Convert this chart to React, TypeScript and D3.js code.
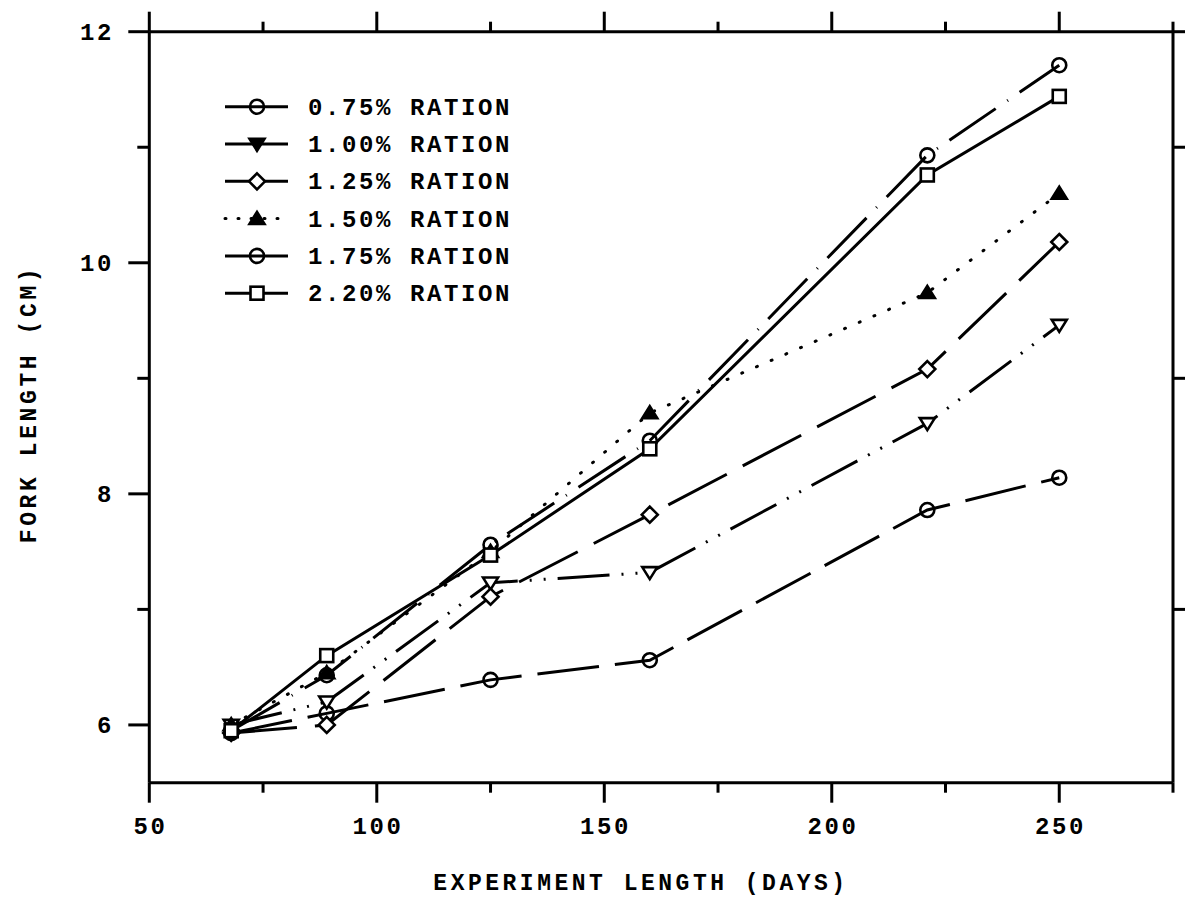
import React from "react";
import * as d3 from "d3";

const days = [68, 89, 125, 160, 221, 250];
const r075 = [5.93, 6.1, 6.39, 6.56, 7.86, 8.14];
const r100 = [6.0, 6.2, 7.23, 7.32, 8.61, 9.46];
const r125 = [5.93, 6.0, 7.11, 7.82, 9.08, 10.18];
const r150 = [6.0, 6.45, 7.5, 8.7, 9.74, 10.6];
const r175 = [5.95, 6.43, 7.56, 8.46, 10.93, 11.71];
const r220 = [5.95, 6.6, 7.47, 8.39, 10.76, 11.44];

const seriesLabels = [
  "0.75% RATION",
  "1.00% RATION",
  "1.25% RATION",
  "1.50% RATION",
  "1.75% RATION",
  "2.20% RATION",
];
const xMajorTicks = [50, 100, 150, 200, 250];
const xMinorTicks = [75, 125, 175, 225, 275];
const yMajorTicks = [6, 8, 10, 12];
const yMinorTicks = [7, 9, 11];

const W = 1186;
const H = 906;
const L = 149.3;
const R = 1173;
const T = 31.7;
const B = 782.7;

const FONT = "'Liberation Mono', 'DejaVu Sans Mono', monospace";

type Marker = "circle" | "triDown" | "diamond" | "triUp" | "square";

const seriesDefs: { values: number[]; dash: string; marker: Marker; filled: boolean }[] = [
  { values: r075, dash: "62,16", marker: "circle", filled: false },
  { values: r100, dash: "52,12,2,12,2,12", marker: "triDown", filled: false },
  { values: r125, dash: "66,18", marker: "diamond", filled: false },
  { values: r150, dash: "1,15", marker: "triUp", filled: true },
  { values: r175, dash: "56,14,1,14", marker: "circle", filled: false },
  { values: r220, dash: "", marker: "square", filled: false },
];

function MarkerShape({ type, x, y, filled }: { type: Marker; x: number; y: number; filled: boolean }) {
  const sw = 2.6;
  const common = { stroke: "#000", strokeWidth: sw };
  if (type === "circle") {
    return <circle cx={x} cy={y} r={7} fill="none" {...common} />;
  }
  if (type === "square") {
    return <rect x={x - 6.5} y={y - 6.5} width={13} height={13} fill="#fff" {...common} />;
  }
  if (type === "diamond") {
    const s = 8;
    return (
      <path d={`M${x},${y - s}L${x + s},${y}L${x},${y + s}L${x - s},${y}Z`} fill="#fff" {...common} />
    );
  }
  if (type === "triDown") {
    const s = 7.5;
    return (
      <path
        d={`M${x - s},${y - s * 0.7}L${x + s},${y - s * 0.7}L${x},${y + s * 0.9}Z`}
        fill={filled ? "#000" : "#fff"}
        {...common}
      />
    );
  }
  const s = 7.5;
  return (
    <path
      d={`M${x - s},${y + s * 0.7}L${x + s},${y + s * 0.7}L${x},${y - s * 0.9}Z`}
      fill={filled ? "#000" : "#fff"}
      {...common}
    />
  );
}

export default function App() {
  const x = d3.scaleLinear().domain([50, 275]).range([L, R]);
  const y = d3.scaleLinear().domain([5.5, 12]).range([B, T]);
  const line = d3
    .line<[number, number]>()
    .x((d) => x(d[0]))
    .y((d) => y(d[1]));

  const textStyle = {
    fontFamily: FONT,
    fontWeight: 700 as const,
    fontSize: 24,
    letterSpacing: 2.6,
    fill: "#000",
  };

  const legendX0 = 225;
  const legendX1 = 288;
  const legendMx = 257;
  const legendY0 = 106.7;
  const legendDy = 37.3;

  return (
    <svg width={W} height={H} style={{ position: "absolute", left: 0, top: 0, background: "#fff" }}>
      <rect x={0} y={0} width={W} height={H} fill="#fff" />
      {/* frame */}
      <g stroke="#000" strokeWidth={3} fill="none">
        <line x1={L} y1={B} x2={R} y2={B} />
        <line x1={L} y1={T} x2={R} y2={T} />
        <line x1={L} y1={T} x2={L} y2={B} />
        <line x1={R} y1={T} x2={R} y2={B} />
        {xMajorTicks.map((t) => (
          <g key={"xm" + t}>
            <line x1={x(t)} x2={x(t)} y1={B} y2={B + 20} />
            <line x1={x(t)} x2={x(t)} y1={T} y2={T - 20} />
          </g>
        ))}
        {xMinorTicks.map((t) => (
          <g key={"xn" + t}>
            <line x1={x(t)} x2={x(t)} y1={B} y2={B + 10} />
            <line x1={x(t)} x2={x(t)} y1={T} y2={T - 10} />
          </g>
        ))}
        {yMajorTicks.map((t) => (
          <line key={"ym" + t} x1={L} x2={L - 21} y1={y(t)} y2={y(t)} />
        ))}
        {yMinorTicks.map((t) => (
          <g key={"yn" + t}>
            <line x1={L} x2={L - 12} y1={y(t)} y2={y(t)} />
            <line x1={R} x2={R + 12} y1={y(t)} y2={y(t)} />
          </g>
        ))}
        <line x1={R} x2={R + 12} y1={y(12)} y2={y(12)} />
      </g>

      {/* tick labels */}
      {xMajorTicks.map((t) => (
        <text key={"xl" + t} x={x(t) + 1.3} y={834} textAnchor="middle" {...textStyle}>
          {t}
        </text>
      ))}
      {yMajorTicks.map((t) => (
        <text key={"yl" + t} x={114} y={y(t) + 8} textAnchor="end" {...textStyle}>
          {t}
        </text>
      ))}

      {/* axis titles */}
      <text x={641} y={890} textAnchor="middle" {...textStyle} fontSize={23} letterSpacing={3.5}>
        EXPERIMENT LENGTH (DAYS)
      </text>
      <text
        transform={`translate(36, 404) rotate(-90)`}
        textAnchor="middle"
        {...textStyle}
        fontSize={23}
        letterSpacing={3.6}
      >
        FORK LENGTH (CM)
      </text>

      {/* series */}
      {seriesDefs.map((s, i) => {
        const pts = days.map((d, j) => [d, s.values[j]] as [number, number]);
        return (
          <g key={"s" + i}>
            <path
              d={line(pts) || ""}
              fill="none"
              stroke="#000"
              strokeWidth={3}
              strokeDasharray={s.dash || undefined}
              strokeLinecap={s.marker === "triUp" ? "round" : "butt"}
            />
            {pts.map((p, j) => (
              <MarkerShape key={j} type={s.marker} x={x(p[0])} y={y(p[1])} filled={s.filled} />
            ))}
          </g>
        );
      })}

      {/* legend */}
      {seriesDefs.map((s, i) => {
        const ly = legendY0 + i * legendDy;
        const dotted = s.marker === "triUp";
        return (
          <g key={"lg" + i}>
            <line
              x1={legendX0}
              x2={legendX1}
              y1={ly}
              y2={ly}
              stroke="#000"
              strokeWidth={3}
              strokeDasharray={dotted ? "1,12" : undefined}
              strokeLinecap={dotted ? "round" : "butt"}
            />
            <MarkerShape
              type={s.marker}
              x={legendMx}
              y={ly}
              filled={s.marker === "triDown" || s.marker === "triUp"}
            />
            <text x={308} y={ly + 8} {...textStyle}>
              {seriesLabels[i]}
            </text>
          </g>
        );
      })}
    </svg>
  );
}
